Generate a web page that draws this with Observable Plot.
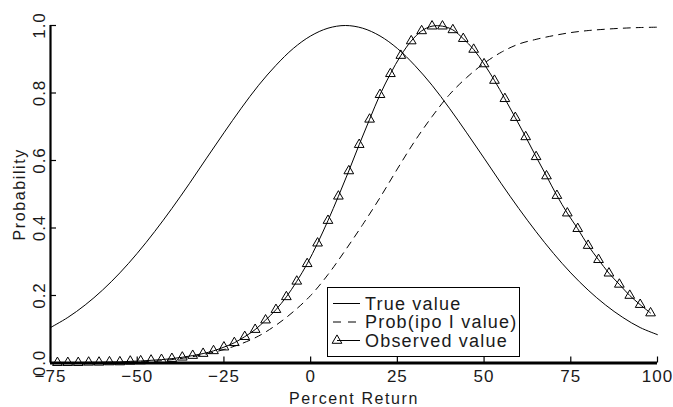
<!DOCTYPE html>
<html><head><meta charset="utf-8">
<script src="https://cdn.jsdelivr.net/npm/d3@7"></script>
<script src="https://cdn.jsdelivr.net/npm/@observablehq/plot@0.6"></script>
<style>
body{margin:0;background:#fff;}
#chart svg{display:block;background:#fff;}
</style></head><body><div id="chart"></div>
<script>
// ---- data ----
const trueX = [-75,-70,-65,-60,-55,-50,-45,-40,-35,-30,-25,-20,-15,-10,-5,0,5,10,15,20,25,30,35,40,45,50,55,60,65,70,75,80,85,90,95,100];
const trueY = [0.105,0.135,0.172,0.216,0.267,0.325,0.389,0.458,0.531,0.607,0.682,0.755,0.823,0.882,0.932,0.969,0.992,1.000,0.992,0.969,0.932,0.882,0.823,0.755,0.682,0.607,0.531,0.458,0.389,0.325,0.267,0.216,0.172,0.135,0.105,0.084];
const probX = [-75,-70,-65,-60,-55,-50,-45,-40,-35,-30,-25,-20,-15,-10,-5,0,5,10,15,20,25,30,35,40,45,50,55,60,65,70,75,80,85,90,95,100];
const probY = [0.000,0.000,0.000,0.001,0.001,0.003,0.005,0.010,0.017,0.027,0.040,0.057,0.080,0.112,0.152,0.200,0.262,0.334,0.410,0.490,0.575,0.657,0.730,0.795,0.846,0.888,0.921,0.945,0.959,0.970,0.979,0.985,0.989,0.992,0.994,0.995];
const obsX = [-73,-70,-67,-64,-61,-58,-55,-52,-49,-46,-43,-40,-37,-34,-31,-28,-25,-22,-19,-16,-13,-10,-7,-4,-1,2,5,8,11,14,17,20,23,26,29,32,35,38,41,44,47,50,53,56,59,62,65,68,71,74,77,80,83,86,89,92,95,98];
const obsY = [0.001,0.001,0.001,0.002,0.002,0.003,0.003,0.005,0.006,0.008,0.010,0.013,0.017,0.022,0.028,0.036,0.047,0.060,0.078,0.099,0.127,0.158,0.196,0.242,0.294,0.355,0.422,0.494,0.569,0.647,0.722,0.795,0.857,0.911,0.954,0.984,0.998,0.998,0.987,0.961,0.929,0.886,0.837,0.783,0.727,0.670,0.611,0.554,0.496,0.444,0.398,0.348,0.306,0.266,0.233,0.200,0.173,0.148];
const xTicks = [-75,-50,-25,0,25,50,75,100];
const xTickLabels = ["\u221275","\u221250","\u221225","0","25","50","75","100"];
const yTicks = [0,0.2,0.4,0.6,0.8,1.0];
const yTickLabels = ["0.0","0.2","0.4","0.6","0.8","1.0"];
const legendLabels = ["True value","Prob(ipo I value)","Observed value"];
const xLabel = "Percent Return";
const yLabel = "Probability";

const trueRows = trueX.map((x,i)=>({x, y:trueY[i]}));
const probRows = probX.map((x,i)=>({x, y:probY[i]}));
const obsRows = obsX.map((x,i)=>({x, y:obsY[i]}));

const FONT = "Liberation Sans, Arial, sans-serif";
const INK = "#1a1a1a";

const plot = Plot.plot({
  width: 673, height: 407,
  marginLeft: 50, marginRight: 16, marginTop: 25, marginBottom: 44.5,
  x: {domain: [-75, 100], axis: null},
  y: {domain: [0, 1], axis: null},
  style: {fontFamily: FONT, background: "#fff"},
  marks: [
    Plot.line(trueRows, {x:"x", y:"y", stroke:"#000", strokeWidth:1, curve:"catmull-rom"}),
    Plot.line(probRows, {x:"x", y:"y", stroke:"#000", strokeWidth:1, strokeDasharray:"7,6", curve:"catmull-rom"}),
    Plot.line(obsRows, {x:"x", y:"y", stroke:"#000", strokeWidth:1, curve:"catmull-rom"}),
    Plot.dot(obsRows, {x:"x", y:"y", symbol:"triangle", r:3.6, stroke:"#000", fill:"none", strokeWidth:1}),
    // axes
    Plot.ruleX([-75], {stroke:"#000", strokeWidth:2.2}),
    Plot.ruleY([0], {stroke:"#000", strokeWidth:3}),
    Plot.ruleX(xTicks, {x: d=>d, y1: 0, y2: 0, insetBottom: 6, stroke:"#000", strokeWidth:1.2}),
    Plot.ruleY(yTicks, {y: d=>d, x1: -75, x2: -75, insetRight: -6, stroke:"#000", strokeWidth:1.2}),
    Plot.text(xTicks, {x: d=>d, frameAnchor:"bottom", textAnchor:"middle", lineAnchor:"middle", dy: 13.5, text: (d,i)=>xTickLabels[i], fontSize: 17, fill: INK}),
    Plot.text(yTicks, {y: d=>d, frameAnchor:"left", textAnchor:"middle", lineAnchor:"middle", dx: -11, rotate: -90, text: (d,i)=>yTickLabels[i], fontSize: 17, fill: INK}),
    Plot.text([xLabel], {frameAnchor:"bottom", textAnchor:"middle", lineAnchor:"middle", dy: 35.5, text: d=>d, fontSize: 16, fill: INK, className: "ttl"}),
    Plot.text([yLabel], {frameAnchor:"left", textAnchor:"middle", lineAnchor:"middle", dx: -31, rotate: -90, text: d=>d, fontSize: 16, fill: INK, className: "ttl"})
  ]
});
document.getElementById("chart").appendChild(plot);

// letter spacing to mimic the wide stroke font
d3.select(plot).selectAll("text").style("letter-spacing", "1px");
d3.select(plot).selectAll(".ttl text").style("letter-spacing", "1.6px");

// legend drawn inside the plot svg
const lg = d3.select(plot).append("g").attr("font-family", FONT).attr("font-size", 18).attr("fill", INK).attr("text-anchor", "start");
lg.append("rect").attr("x", 327.5).attr("y", 287.5).attr("width", 192).attr("height", 69)
  .attr("fill", "#fff").attr("stroke", "#000").attr("stroke-width", 1);
const rowsY = [303.5, 322, 340.5];
lg.append("line").attr("x1", 333).attr("x2", 360).attr("y1", rowsY[0]).attr("y2", rowsY[0]).attr("stroke", "#000");
lg.append("line").attr("x1", 333).attr("x2", 360).attr("y1", rowsY[1]).attr("y2", rowsY[1]).attr("stroke", "#000").attr("stroke-dasharray", "8,7");
lg.append("line").attr("x1", 337).attr("x2", 360).attr("y1", rowsY[2]).attr("y2", rowsY[2]).attr("stroke", "#000");
lg.append("path").attr("transform", `translate(337,${rowsY[2]})`).attr("d", d3.symbol(d3.symbolTriangle, Math.PI*3.6*3.6)())
  .attr("fill", "none").attr("stroke", "#000");
legendLabels.forEach((t,i)=>{
  lg.append("text").attr("x", 365).attr("y", rowsY[i]).attr("dy", "0.35em").attr("text-anchor", "start").style("letter-spacing","1.2px").text(t);
});
</script></body></html>
